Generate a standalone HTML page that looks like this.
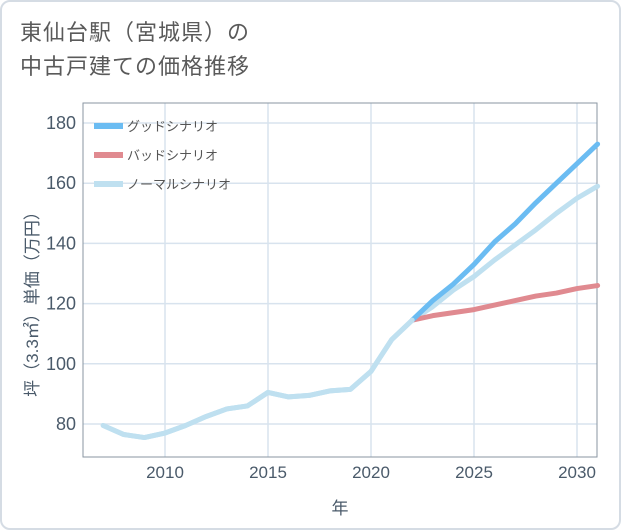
<!DOCTYPE html>
<html><head><meta charset="utf-8"><style>
body{margin:0;background:#fff;}
#wrap{position:relative;width:621px;height:530px;box-sizing:border-box;border:2px solid #d5dce4;border-radius:10px;background:#fff;font-family:"Liberation Sans","Noto Sans CJK JP",sans-serif;}
#title{position:absolute;left:18px;top:14px;font-size:22px;line-height:34px;color:#5a5a5a;letter-spacing:1px}
svg text{font-family:"Liberation Sans","Noto Sans CJK JP",sans-serif;}
</style></head><body>
<div id="wrap">
<div id="title">東仙台駅（宮城県）の<br>中古戸建ての価格推移</div>
<svg id="chart" width="621" height="530" style="position:absolute;left:-2px;top:-2px"></svg>
</div>
<script>
const years=[2007,2008,2009,2010,2011,2012,2013,2014,2015,2016,2017,2018,2019,2020,2021,2022,2023,2024,2025,2026,2027,2028,2029,2030,2031];
const normalVals=[79.5,76.5,75.5,77,79.5,82.5,85,86,90.5,89,89.5,91,91.5,97.5,108,114.5,119,124.5,129,134.5,139.5,144.5,150,155,159];
const futureYears=[2022,2023,2024,2025,2026,2027,2028,2029,2030,2031];
const goodVals=[114.5,121,126.5,133,140.5,146.5,153.5,160,166.5,173];
const badVals=[114.5,116,117,118,119.5,121,122.5,123.5,125,126];
const xTicks=[2010,2015,2020,2025,2030];
const yTicks=[80,100,120,140,160,180];
const legendLabels=["グッドシナリオ","バッドシナリオ","ノーマルシナリオ"];
const NS="http://www.w3.org/2000/svg";
const svg=document.getElementById('chart');
const L=83,R=597,T=103,B=457;
const x=v=>165+(v-2010)*20.6;
const y=v=>424-(v-80)*3.01;
function mk(t,a,p){const e=document.createElementNS(NS,t);for(const k in a)e.setAttribute(k,a[k]);(p||svg).appendChild(e);return e;}
xTicks.forEach(t=>{const l=mk('line',{x1:x(t),x2:x(t),y1:T,y2:B,stroke:'#d8e3ee','stroke-width':1.5});


const tx=mk('text',{x:x(t),y:478,'text-anchor':'middle','font-size':17,fill:'#4a5a6a'});tx.textContent=t;

});
yTicks.forEach(t=>{const l=mk('line',{x1:L,x2:R,y1:y(t),y2:y(t),stroke:'#d8e3ee','stroke-width':1.5});


const tx=mk('text',{x:76,y:y(t)+6,'text-anchor':'end','font-size':18,fill:'#4a5a6a'});tx.textContent=t;

});
const fr=mk('rect',{x:L,y:T,width:R-L,height:B-T,fill:'none',stroke:'#8a96a2','stroke-width':1});


function line(xs,vs,c,name){const p=mk('polyline',{points:xs.map((v,i)=>x(v)+','+y(vs[i])).join(' '),fill:'none',stroke:c,'stroke-width':5,'stroke-linejoin':'round','stroke-linecap':'round'});

}
line(years,normalVals,'#bfe0f0','normal-scenario-line');
line(futureYears,badVals,'#e08a90','bad-scenario-line');
line(futureYears,goodVals,'#6bbcf2','good-scenario-line');
line(years.slice(0,16),normalVals.slice(0,16),'#bfe0f0','history-line');
const cols=['#6bbcf2','#e08a90','#bfe0f0'];
legendLabels.forEach((s,i)=>{const yy=126+i*29;
const r=mk('rect',{x:94,y:yy-3,width:29,height:6,fill:cols[i]});


const t=mk('text',{x:127,y:yy+5,'font-size':13,fill:'#555'});t.textContent=s;

});
const xt=mk('text',{x:340,y:514,'text-anchor':'middle','font-size':17,fill:'#4a5a6a'});xt.textContent='年';


const yt=mk('text',{x:0,y:0,'text-anchor':'middle','font-size':17,fill:'#4a5a6a',transform:'translate(38,300) rotate(-90)'});yt.textContent='坪（3.3㎡）単価（万円）';


</script>
</body></html>
